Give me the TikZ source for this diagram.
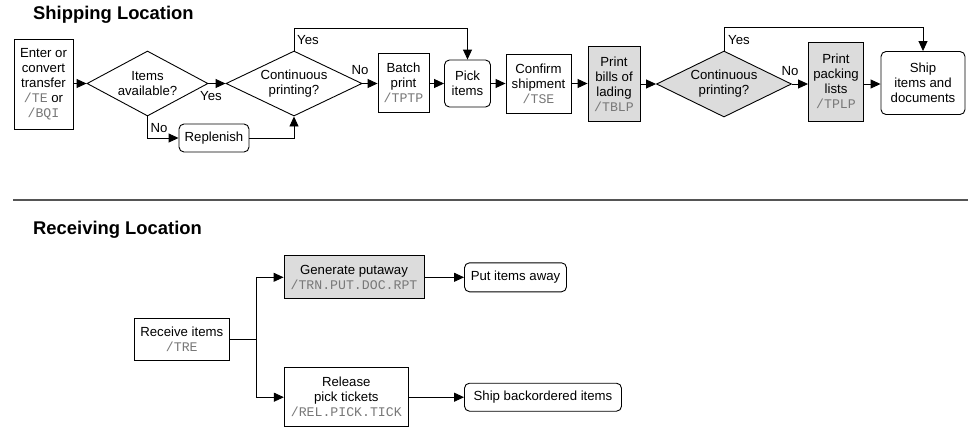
\documentclass[tikz,border=0pt]{standalone}
\usepackage{fontspec}
\setmainfont{Liberation Sans}
\newfontfamily\monof{Liberation Mono}
\usetikzlibrary{shapes.geometric,arrows.meta}
\definecolor{boxgray}{RGB}{220,220,220}
\definecolor{codegray}{RGB}{120,120,120}
\definecolor{sepgray}{RGB}{85,85,85}
\newcommand{\cmdtxt}[1]{{\monof\color{codegray}#1}}
\begin{document}
\begin{tikzpicture}[x=1pt,y=-1pt,
  every node/.style={font=\fontsize{13.2}{15}\selectfont, inner sep=0pt},
  box/.style={draw, line width=0.9pt, align=center},
  rbox/.style={box, rounded corners=5pt},
  gbox/.style={box, fill=boxgray},
  dia/.style={draw, line width=0.9pt, shape=diamond, aspect=2, align=center},
  arr/.style={line width=0.9pt, -{Triangle[length=10pt,width=9pt]}},
  ln/.style={line width=0.9pt},
  title/.style={font=\fontsize{18.4}{22}\selectfont\bfseries, anchor=base west},
  lbl/.style={font=\fontsize{13.2}{15}\selectfont},
]
\useasboundingbox (0,0) rectangle (977,440);
\fill[white] (0,0) rectangle (977,440);

% titles and separator
\node[title] (t1) at (33,19.3) {Shipping Location};
\node[title] (t2) at (33,234.3) {Receiving Location};
\coordinate (s1) at (13,200);
\coordinate (s2) at (968,200);
\draw[sepgray, line width=1.5pt] (s1) -- (s2);

% shipping nodes
\node[box, minimum width=59pt, minimum height=90pt] (enter) at (43.5,84)
  {Enter or\\convert\\transfer\\\cmdtxt{/TE} or\\\cmdtxt{/BQI}};
\node[dia, minimum width=121pt, minimum height=65pt] (d1) at (147.5,83.5)
  {Items\\available?};
\node[dia, minimum width=136pt, minimum height=65pt] (d2) at (294,83.5)
  {Continuous\\printing?};
\node[box, minimum width=51pt, minimum height=59pt] (batch) at (403.5,83)
  {Batch\\print\\\cmdtxt{/TPTP}};
\node[rbox, minimum width=46pt, minimum height=47pt] (pick) at (467.5,83.5)
  {Pick\\items};
\node[box, minimum width=65pt, minimum height=59pt] (confirm) at (538.5,83.5)
  {Confirm\\shipment\\\cmdtxt{/TSE}};
\node[gbox, minimum width=52pt, minimum height=75pt] (bills) at (614,84)
  {Print\\bills of\\lading\\\cmdtxt{/TBLP}};
\node[dia, fill=boxgray, minimum width=135pt, minimum height=66pt] (d3) at (724,84)
  {Continuous\\printing?};
\node[gbox, minimum width=55pt, minimum height=79pt] (packing) at (836,81.5)
  {Print\\packing\\lists\\\cmdtxt{/TPLP}};
\node[rbox, minimum width=84pt, minimum height=63pt] (ship) at (923,83)
  {Ship\\items and\\documents};
\node[rbox, minimum width=70pt, minimum height=28pt] (repl) at (214,138)
  {Replenish};

% shipping connectors
\draw[arr] (enter.east |- d1.west) -- (d1.west);
\draw[arr] (d1.east) -- (d2.west);
\draw[arr] (d2.east) -- (d2.east -| batch.west);
\draw[arr] (d2.east -| batch.east) -- (d2.east -| pick.west);
\draw[arr] (pick.east) -- (pick.east -| confirm.west);
\draw[arr] (pick.east -| confirm.east) -- (pick.east -| bills.west);
\draw[arr] (d3.west -| bills.east) -- (d3.west);
\draw[arr] (d3.east) -- (d3.east -| packing.west);
\draw[arr] (d3.east -| packing.east) -- (d3.east -| ship.west);
\coordinate (y1) at (467.5,28);
\draw[arr] (d2.north) |- (y1) -- (pick.north);
\coordinate (y2) at (923,27);
\draw[arr] (d3.north) |- (y2) -- (ship.north);
\draw[arr] (d1.south) |- (repl.west);
\draw[arr] (repl.east) -| (d2.south);

% shipping labels
\node[lbl] (l1) at (211,96) {Yes};
\node[lbl] (l2) at (360,70) {No};
\node[lbl] (l3) at (308,40) {Yes};
\node[lbl] (l4) at (159,128) {No};
\node[lbl] (l5) at (739,40.5) {Yes};
\node[lbl] (l6) at (790,71) {No};

% receiving nodes
\node[box, minimum width=95pt, minimum height=42pt] (recv) at (181.8,339)
  {Receive items\\\cmdtxt{/TRE}};
\node[gbox, minimum width=140pt, minimum height=43pt] (gen) at (354,277.3)
  {Generate putaway\\\cmdtxt{/TRN.PUT.DOC.RPT}};
\node[rbox, minimum width=102pt, minimum height=29pt] (away) at (515.5,277.3)
  {Put items away};
\node[box, minimum width=124pt, minimum height=59pt] (rel) at (346.3,397.2)
  {Release\\pick tickets\\\cmdtxt{/REL.PICK.TICK}};
\node[rbox, minimum width=157pt, minimum height=28pt] (back) at (543,397.2)
  {Ship backordered items};

% receiving connectors
\coordinate (br) at (256.7,339);
\draw[ln] (recv.east) -- (br);
\draw[arr] (br) |- (gen.west);
\draw[arr] (br) |- (rel.west);
\draw[arr] (gen.east) -- (away.west);
\draw[arr] (rel.east) -- (back.west);
\end{tikzpicture}
\end{document}
